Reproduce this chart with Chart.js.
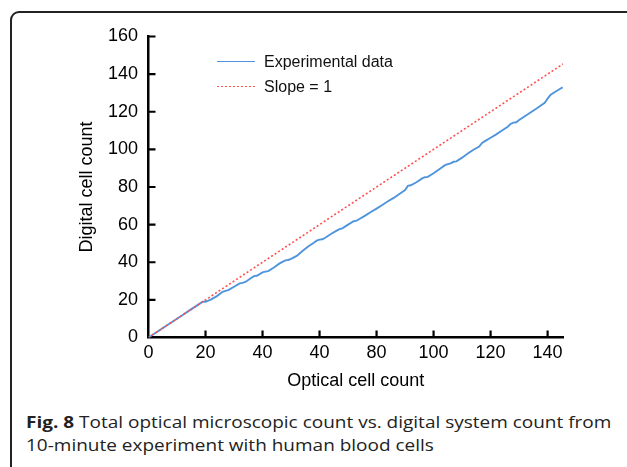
<!DOCTYPE html>
<html>
<head>
<meta charset="utf-8">
<script src="https://cdn.jsdelivr.net/npm/chart.js@4.4.0/dist/chart.umd.min.js"></script>
<style>
  html, body { margin: 0; padding: 0; background: #fff; }
  body { width: 627px; height: 467px; overflow: hidden; position: relative; font-family: "Liberation Sans", Arial, sans-serif; }
  #frame { position: absolute; left: 10px; top: 11px; width: 640px; height: 520px; border: 2px solid #222; border-radius: 9px; box-sizing: border-box; }
  #chartBox { position: absolute; left: 0; top: 0; width: 627px; height: 400px; }
  #legend { position: absolute; left: 217px; top: 49px; font-size: 16px; color: #111; }
  .legend-row { display: flex; align-items: center; height: 25px; }
  .legend-swatch { width: 38px; height: 2px; margin-right: 9px; }
  #caption { position: absolute; left: 26px; top: 411px; width: 484px; font-family: "Open Sans", sans-serif; font-size: 15.5px; line-height: 23px; color: #222; transform: scaleX(1.225); transform-origin: 0 0; }
  #caption b { font-weight: 700; }
</style>
</head>
<body>
<div id="frame"></div>
<div id="chartBox"><canvas id="cellChart"></canvas></div>
<div id="legend"></div>
<div id="caption"><b>Fig. 8</b> Total optical microscopic count vs. digital system count from 10-minute experiment with human blood cells</div>

<script>
// số đếm quang học (x) và số đếm số (y)
const opticalCount = [0, 2, 4, 6, 8, 10, 12, 14, 16, 18, 19, 20, 21, 22, 24, 26, 27, 28, 30, 32, 33, 34, 36, 37, 38, 40, 41, 42, 44, 46, 47, 48, 49, 50, 52, 54, 56, 58, 59, 60, 61, 62, 64, 66, 67, 68, 70, 72, 73, 74, 76, 78, 80, 82, 84, 86, 88, 90, 91, 92, 94, 96, 97, 98, 100, 102, 104, 105, 106, 107, 108, 110, 112, 114, 116, 117, 118, 120, 122, 124, 126, 127, 128, 129, 130, 132, 134, 136, 138, 139, 140, 141, 142, 144, 145.3];
const digitalCount = [0, 2, 4, 6, 8, 10, 12, 14, 16, 18, 19, 19, 19.6, 20.3, 22, 24.3, 24.8, 25.2, 27, 28.8, 29, 29.5, 31.6, 32.6, 32.8, 34.6, 35, 35.3, 37.2, 39.4, 40.2, 41, 41.2, 41.8, 43.4, 46, 48.4, 50.4, 51.5, 52, 52.2, 53, 55, 56.8, 57.6, 58, 60, 61.8, 62.1, 63, 64.8, 66.7, 68.5, 70.4, 72.4, 74.2, 76.3, 78.4, 80.6, 80.9, 82.5, 84.6, 85.2, 85.4, 87.3, 89.4, 91.6, 92.2, 92.6, 93.4, 93.6, 95.6, 97.8, 99.8, 101.5, 103.4, 104.4, 106.2, 108, 110, 112, 113.5, 114.2, 114.4, 115.6, 117.6, 119.6, 121.6, 123.7, 124.8, 127, 128.9, 130, 131.8, 133];

// đường tham chiếu hệ số góc = 1
const slopeX = [0, 145.4];
const slopeY = [0, 145.4];

const xTickValues = [0, 20, 40, 60, 80, 100, 120, 140];
const xTickLabels = ['0', '20', '40', '40', '80', '100', '120', '140'];
const yTickValues = [0, 20, 40, 60, 80, 100, 120, 140, 160];

const seriesNames = ['Experimental data', 'Slope = 1'];
const seriesColors = ['#4f94dc', '#ff5050'];

const toPoints = (xs, ys) => xs.map((x, i) => ({ x, y: ys[i] }));

// vạch chia hướng vào trong như hình gốc
const inwardTicks = {
  id: 'inwardTicks',
  afterDraw(chart) {
    const { ctx, chartArea, scales: { x, y } } = chart;
    ctx.save();
    ctx.strokeStyle = '#000';
    ctx.lineWidth = 2.2;
    ctx.beginPath();
    x.ticks.forEach(t => {
      const px = x.getPixelForValue(t.value);
      if (t.value === 0) return;
      ctx.moveTo(px, chartArea.bottom);
      ctx.lineTo(px, chartArea.bottom - 7);
    });
    y.ticks.forEach(t => {
      const py = y.getPixelForValue(t.value);
      if (t.value === 0) return;
      ctx.moveTo(chartArea.left, py);
      ctx.lineTo(chartArea.left + 7, py);
    });
    ctx.stroke();
    ctx.restore();
  }
};

const axisFont = { family: '"Liberation Sans", Arial, sans-serif', size: 18 };

const cellChart = new Chart(document.getElementById('cellChart'), {
  type: 'line',
  data: {
    datasets: [{
      label: seriesNames[0],
      data: toPoints(opticalCount, digitalCount),
      borderColor: seriesColors[0],
      borderWidth: 1.9,
      pointRadius: 0,
      tension: 0,
      order: 1
    }, {
      label: seriesNames[1],
      data: toPoints(slopeX, slopeY),
      borderColor: seriesColors[1],
      borderWidth: 1.6,
      borderDash: [2, 2.2],
      pointRadius: 0,
      order: 0
    }]
  },
  options: {
    responsive: true,
    maintainAspectRatio: false,
    animation: false,
    layout: { padding: { left: 76, top: 36.5, right: 64, bottom: 8 } },
    plugins: {
      legend: { display: false },
      tooltip: { enabled: false }
    },
    scales: {
      x: {
        type: 'linear',
        min: 0,
        max: 145.4,
        afterBuildTicks: scale => { scale.ticks = xTickValues.map(v => ({ value: v })); },
        afterFit: scale => { scale.height = 54.5; },
        grid: { display: false, drawTicks: false },
        border: { display: true, color: '#000', width: 2.5 },
        ticks: {
          padding: 5,
          color: '#000',
          font: axisFont,
          maxRotation: 0,
          callback: (value) => xTickLabels[xTickValues.indexOf(value)]
        },
        title: { display: true, text: 'Optical cell count', color: '#000', font: axisFont, padding: 0 }
      },
      y: {
        type: 'linear',
        min: 0,
        max: 160,
        afterBuildTicks: scale => { scale.ticks = yTickValues.map(v => ({ value: v })); },
        afterFit: scale => { scale.width = 72.5; },
        grid: { display: false, drawTicks: false },
        border: { display: true, color: '#000', width: 2.5 },
        ticks: { padding: 10.5, color: '#000', font: axisFont },
        title: { display: true, text: 'Digital cell count', color: '#000', font: axisFont, padding: 0 }
      }
    }
  },
  plugins: [inwardTicks]
});

// chú giải HTML
document.getElementById('legend').innerHTML = seriesNames.map((name, i) => {
  const swatch = i === 0
    ? `background:${seriesColors[0]};height:1.6px;`
    : `background:repeating-linear-gradient(90deg, ${seriesColors[1]} 0 2px, transparent 2px 4px);height:1.6px;`;
  return `<div class="legend-row"><span class="legend-swatch" style="${swatch}"></span><span>${name}</span></div>`;
}).join('');
</script>
</body>
</html>
